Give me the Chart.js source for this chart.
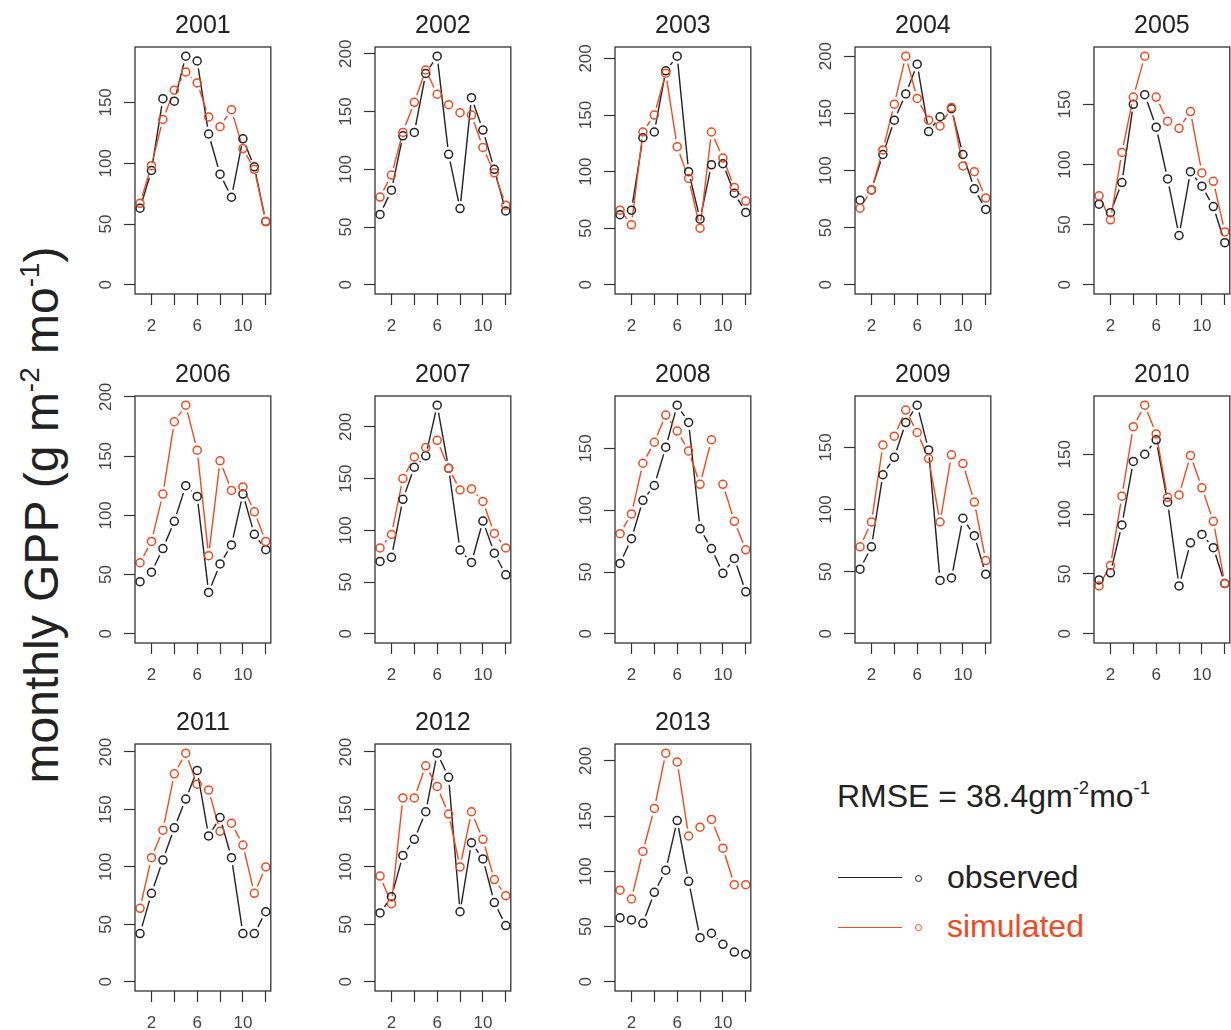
<!DOCTYPE html>
<html lang="en">
<head>
  <meta charset="UTF-8" />
  <title>Monthly GPP, observed vs simulated</title>
  <script src="https://cdn.jsdelivr.net/npm/chart.js"></script>
  <style>
    html, body { margin: 0; padding: 0; background: #fff; overflow: hidden; }
    body {
      position: relative;
      width: 1231px;
      height: 1030px;
      font-family: "Liberation Sans", Arial, Helvetica, sans-serif;
      color: #222;
    }
    canvas.panel { position: absolute; }
    sup { font-size: 58%; vertical-align: 0.7em; line-height: 0; }
    #ylab {
      position: absolute;
      left: 42px;
      top: 515px;
      transform: translate(-50%, -50%) rotate(-90deg);
      font-size: 48px;
      line-height: 48px;
      white-space: nowrap;
    }
    .txt { position: absolute; font-size: 32px; line-height: 32px; white-space: nowrap; }
    .key-line { position: absolute; left: 838px; width: 64px; height: 0; border-top: 1.5px solid; }
    .key-dot { position: absolute; left: 915px; width: 5px; height: 5px; border: 1.5px solid; border-radius: 50%; }
  </style>
</head>
<body>
  <div id="ylab">monthly GPP (g m<sup>-2</sup> mo<sup>-1</sup>)</div>

  <div class="txt" style="left:837px; top:780px;">RMSE = 38.4gm<sup>-2</sup>mo<sup>-1</sup></div>
  <div class="key-line" style="top:877px; border-color:#222;"></div>
  <div class="key-dot" style="top:875px; border-color:#222;"></div>
  <div class="txt" style="left:947px; top:861px; color:#222;">observed</div>
  <div class="key-line" style="top:927px; border-color:#F24A1E;"></div>
  <div class="key-dot" style="top:924px; border-color:#F24A1E;"></div>
  <div class="txt" style="left:947px; top:910px; color:#F24A1E;">simulated</div>

  <script>
    const months = [1, 2, 3, 4, 5, 6, 7, 8, 9, 10, 11, 12];
    const years = [2001, 2002, 2003, 2004, 2005, 2006, 2007, 2008, 2009, 2010, 2011, 2012, 2013];

    // one row per year, Jan..Dec (g m-2 mo-1)
    const observedGPP = [
      [63, 94, 153, 151, 188, 184, 124, 91, 72, 120, 97, 52],
      [61, 82, 129, 132, 183, 198, 113, 66, 162, 134, 100, 64],
      [62, 66, 130, 135, 189, 202, 100, 58, 106, 107, 81, 64],
      [74, 83, 114, 144, 167, 193, 134, 147, 154, 114, 84, 66],
      [67, 60, 85, 150, 158, 131, 88, 41, 94, 82, 65, 35],
      [44, 52, 72, 95, 125, 116, 35, 59, 75, 118, 84, 71],
      [70, 74, 130, 161, 172, 221, 160, 81, 69, 109, 78, 57],
      [57, 77, 108, 120, 151, 185, 171, 85, 69, 49, 61, 34],
      [52, 70, 128, 142, 170, 184, 148, 43, 45, 93, 79, 48],
      [45, 51, 91, 144, 150, 162, 110, 40, 76, 83, 72, 42],
      [42, 77, 106, 134, 159, 184, 127, 143, 108, 42, 42, 61],
      [60, 74, 110, 124, 148, 199, 178, 61, 121, 107, 69, 49],
      [58, 56, 53, 81, 101, 146, 91, 40, 44, 34, 27, 25]
    ];
    const simulatedGPP = [
      [67, 98, 136, 160, 175, 166, 138, 130, 144, 112, 95, 52],
      [76, 95, 132, 158, 186, 165, 156, 149, 147, 119, 97, 69],
      [66, 53, 135, 150, 187, 122, 94, 50, 135, 112, 86, 74],
      [67, 83, 118, 158, 200, 163, 144, 139, 155, 104, 99, 76],
      [74, 54, 110, 156, 190, 156, 136, 130, 144, 93, 86, 44],
      [60, 78, 118, 179, 193, 155, 66, 146, 121, 124, 103, 78],
      [83, 96, 150, 171, 180, 187, 160, 139, 140, 128, 97, 83],
      [81, 97, 138, 155, 177, 164, 148, 121, 157, 121, 91, 68],
      [70, 90, 152, 159, 180, 162, 141, 90, 144, 137, 106, 59],
      [40, 57, 115, 173, 191, 167, 114, 116, 149, 122, 94, 42],
      [64, 108, 132, 181, 199, 172, 167, 131, 138, 119, 77, 100],
      [92, 68, 160, 160, 188, 170, 146, 100, 148, 124, 89, 75],
      [83, 75, 118, 157, 207, 199, 132, 140, 147, 121, 88, 88]
    ];

    const xTicks = [2, 4, 6, 8, 10, 12];
    const xTickLabels = [2, 6, 10];
    const yTicks = [0, 50, 100, 150, 200];

    // plot box positions on the page
    const colLeft = [135, 375, 615, 855, 1094];
    const rowTop = [47, 396, 744];

    const BLACK = '#222';
    const RED = '#F24A1E';
    const FONT = '"Liberation Sans", Arial, Helvetica, sans-serif';
    const GAP = 7.5; // px of line left out at each end of a segment (R type = "b")

    // R-like box and vertical (rotated) y tick labels
    const rPlotStyle = {
      id: 'rPlotStyle',
      afterDraw(chart) {
        const { ctx, chartArea: a } = chart;
        const y = chart.scales.y;
        ctx.save();
        ctx.strokeStyle = '#333';
        ctx.lineWidth = 1.3;
        ctx.strokeRect(a.left, a.top, a.right - a.left, a.bottom - a.top);
        ctx.fillStyle = '#444';
        ctx.font = '17px ' + FONT;
        ctx.textAlign = 'center';
        ctx.textBaseline = 'middle';
        y.ticks.forEach(t => {
          ctx.save();
          ctx.translate(a.left - 29, y.getPixelForValue(t.value));
          ctx.rotate(-Math.PI / 2);
          ctx.fillText(String(t.value), 0, 0);
          ctx.restore();
        });
        ctx.restore();
      }
    };

    function toPoints(values) {
      return months.map((m, i) => ({ x: m, y: values[i] }));
    }

    // each segment gets its own dash: nothing, gap, line, gap
    function gappedDash(ctx) {
      const len = Math.hypot(ctx.p1.x - ctx.p0.x, ctx.p1.y - ctx.p0.y);
      if (len <= 2 * GAP) return [0, len + 100];
      return [0, GAP, len - 2 * GAP, GAP + 100];
    }

    const lineSet = (values, color, order) => ({
      data: toPoints(values), borderColor: color, borderWidth: 1.4,
      pointRadius: 0, order: order, clip: false,
      segment: { borderDash: gappedDash }
    });
    const pointSet = (values, color, order) => ({
      data: toPoints(values), showLine: false,
      borderColor: 'rgba(0,0,0,0)', borderWidth: 0,
      pointRadius: 4, pointBorderWidth: 1.5, pointBorderColor: color,
      pointBackgroundColor: 'rgba(0,0,0,0)', order: order, clip: false
    });

    function makePanel(i) {
      const canvas = document.createElement('canvas');
      canvas.className = 'panel';
      canvas.width = 212;
      canvas.height = 345;
      canvas.style.left = (colLeft[i % 5] - 70) + 'px';
      canvas.style.top = (rowTop[Math.floor(i / 5)] - 50) + 'px';
      document.body.appendChild(canvas);

      const obs = observedGPP[i];
      const sim = simulatedGPP[i];
      const top = Math.max(...obs, ...sim);

      new Chart(canvas, {
        type: 'line',
        data: {
          datasets: [
            lineSet(obs, BLACK, 4),
            lineSet(sim, RED, 3),
            pointSet(obs, BLACK, 2),
            pointSet(sim, RED, 1)
          ]
        },
        options: {
          responsive: false,
          animation: false,
          events: [],
          layout: { padding: { right: 4 }, autoPadding: false },
          plugins: {
            legend: { display: false },
            tooltip: { enabled: false },
            title: {
              display: true,
              text: String(years[i]),
              fullSize: false,
              color: '#222',
              font: { family: FONT, size: 25, weight: 'normal', lineHeight: 1.2 },
              padding: { top: 14, bottom: 6 }
            }
          },
          scales: {
            x: {
              type: 'linear',
              min: 0.56,
              max: 12.44,
              afterBuildTicks: s => { s.ticks = xTicks.map(v => ({ value: v })); },
              afterFit: s => { s.height = 48; },
              grid: { drawOnChartArea: false, drawTicks: true, tickLength: 11, tickColor: '#333', tickWidth: 1.2 },
              border: { display: false },
              ticks: {
                autoSkip: false, maxRotation: 0, padding: 11, color: '#444',
                font: { family: FONT, size: 17 },
                callback: v => xTickLabels.includes(v) ? String(v) : ''
              }
            },
            y: {
              min: -0.04 * top,
              max: 1.04 * top,
              afterBuildTicks: s => { s.ticks = yTicks.filter(v => v <= s.max).map(v => ({ value: v })); },
              afterFit: s => { s.width = 70; },
              grid: { drawOnChartArea: false, drawTicks: true, tickLength: 11, tickColor: '#333', tickWidth: 1.2 },
              border: { display: false },
              ticks: { color: 'rgba(0,0,0,0)', font: { family: FONT, size: 17 } }
            }
          }
        },
        plugins: [rPlotStyle]
      });
    }

    years.forEach((y, i) => makePanel(i));
  </script>
</body>
</html>
